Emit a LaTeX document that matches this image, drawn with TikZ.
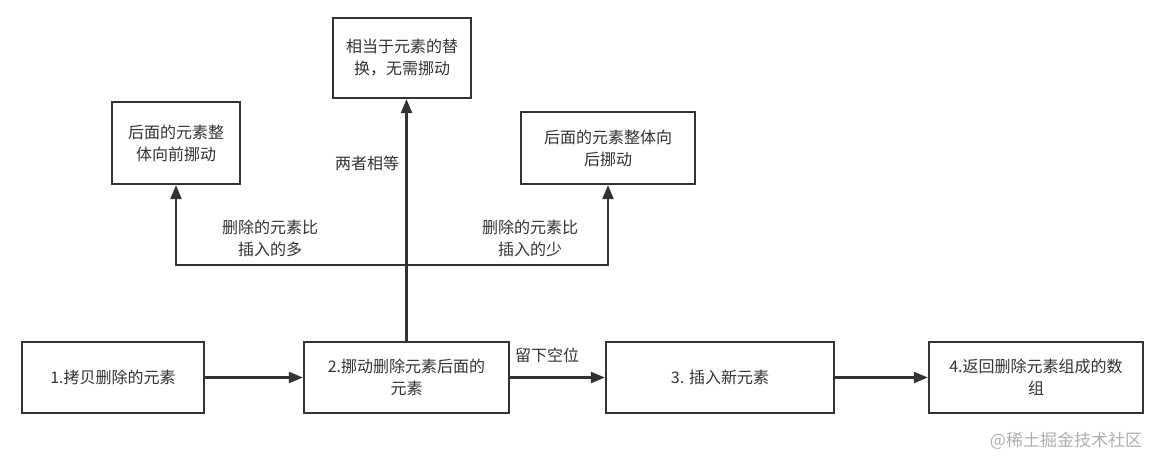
\documentclass[tikz,border=0pt]{standalone}
\usepackage{fontspec}
\setmainfont{Noto Sans CJK SC}
\usetikzlibrary{arrows.meta}
\definecolor{ink}{HTML}{333333}
\definecolor{wm}{HTML}{B0B0B0}
\begin{document}
\begin{tikzpicture}[x=1pt,y=-1pt,
  box/.style={draw=ink,line width=2.2pt,fill=white,text=ink,align=center,inner sep=2pt,font=\fontsize{16}{22}\selectfont},
  lbl/.style={text=ink,align=center,inner sep=1pt,font=\fontsize{16}{22}\selectfont},
  conn/.style={draw=ink,line width=2.2pt,-{Triangle[length=14pt,width=11pt]}}]
\useasboundingbox[fill=white] (0,0) rectangle (1164,467);
\node[box,minimum width=182pt,minimum height=71pt] (b1) at (113,377.5) {1.拷贝删除的元素};
\node[box,minimum width=205pt,minimum height=71pt] (b2) at (406.5,377.5) {2.挪动删除元素后面的\\元素};
\node[box,minimum width=228pt,minimum height=71pt] (b3) at (720,377.5) {3. 插入新元素};
\node[box,minimum width=214pt,minimum height=71pt] (b4) at (1036,377.5) {4.返回删除元素组成的数\\组};
\node[box,minimum width=138pt,minimum height=80pt] (top) at (402,58) {相当于元素的替\\换，无需挪动};
\node[box,minimum width=128pt,minimum height=82pt] (lb) at (176,143) {后面的元素整\\体向前挪动};
\node[box,minimum width=174pt,minimum height=72pt] (rb) at (608,148) {后面的元素整体向\\后挪动};
\coordinate (j) at (406.5,265);
\draw[conn] (b1) -- (b2);
\draw[conn] (b2) -- (b3);
\draw[conn] (b3) -- (b4);
\draw[conn] (b2.north) -- (b2.north |- top.south);
\draw[conn] (j) -| (lb.south);
\draw[conn] (j) -| (rb.south);
\node[lbl] (l1) at (547,355) {留下空位};
\node[lbl] (l2) at (367,163) {两者相等};
\node[lbl] (l3) at (270,238) {删除的元素比\\插入的多};
\node[lbl] (l4) at (530,238) {删除的元素比\\插入的少};
\node[text=wm,inner sep=0pt,font=\fontsize{17}{20}\selectfont] (w) at (1066,441) {@稀土掘金技术社区};
\end{tikzpicture}
\end{document}
